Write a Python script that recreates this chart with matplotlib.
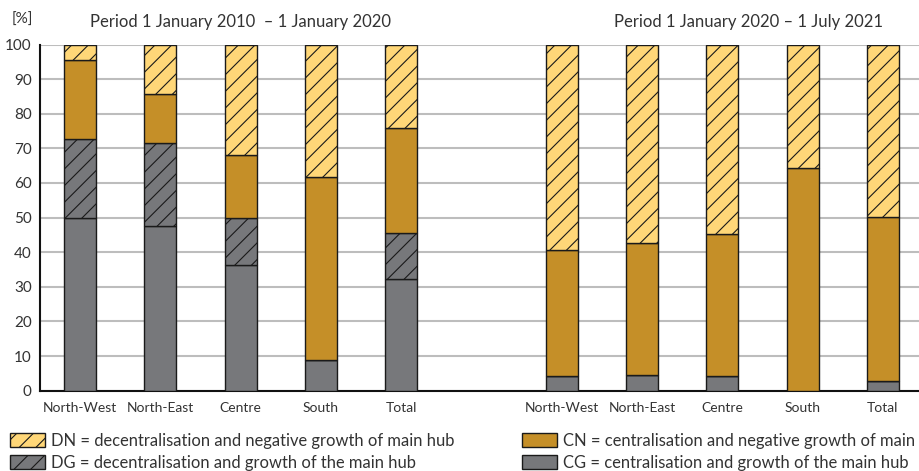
import matplotlib
matplotlib.use("Agg")
import matplotlib.pyplot as plt
from matplotlib.patches import Patch
import numpy as np

plt.rcParams['font.family'] = ['Lato', 'DejaVu Sans']
plt.rcParams['hatch.linewidth'] = 0.8

regions = ["North-West", "North-East", "Centre", "South", "Total"]
period_titles = ["Period 1 January 2010  \u2013 1 January 2020",
                 "Period 1 January 2020 \u2013 1 July 2021"]

# Period 1 (2010-2020), shares in %
p1_CG = [50.0, 47.6, 36.4, 8.8, 32.3]
p1_DG = [22.8, 23.9, 13.6, 0.0, 13.2]
p1_CN = [22.7, 14.3, 18.2, 53.0, 30.3]
p1_DN = [4.5, 14.2, 31.8, 38.2, 24.2]

# Period 2 (2020-2021), shares in %
p2_CG = [4.3, 4.6, 4.3, 0.0, 2.8]
p2_DG = [0.0, 0.0, 0.0, 0.0, 0.0]
p2_CN = [36.4, 38.0, 40.9, 64.4, 47.5]
p2_DN = [59.3, 57.4, 54.8, 35.6, 49.7]

yticks = [0, 10, 20, 30, 40, 50, 60, 70, 80, 90, 100]

c_DN = '#FFD778'
c_DG = '#77787B'
c_CN = '#C58F28'
c_CG = '#77787B'
edge = '#1a1a1a'

W, H = 919, 471
fig = plt.figure(figsize=(W / 100, H / 100), dpi=100)
y0, y100 = 390.7, 44.5
ax = fig.add_axes([40 / W, (H - y0) / H, 883 / W, (y0 - y100) / H])

x1 = np.arange(5)
x2 = np.arange(5) + 6
bw = 0.4

def stack(x, CG, DG, CN, DN):
    CG = np.array(CG); DG = np.array(DG); CN = np.array(CN); DN = np.array(DN)
    ax.bar(x, CG, bw, color=c_CG, edgecolor=edge, linewidth=1, zorder=3)
    ax.bar(x, DG, bw, bottom=CG, color=c_DG, edgecolor=edge, linewidth=1,
           hatch='//', zorder=3)
    ax.bar(x, CN, bw, bottom=CG + DG, color=c_CN, edgecolor=edge, linewidth=1,
           zorder=3)
    ax.bar(x, DN, bw, bottom=CG + DG + CN, color=c_DN, edgecolor=edge,
           linewidth=1, hatch='//', zorder=3)

stack(x1, p1_CG, p1_DG, p1_CN, p1_DN)
stack(x2, p2_CG, p2_DG, p2_CN, p2_DN)

ax.set_xlim(-0.5, 10.5)
ax.set_ylim(0, 100)
ax.set_yticks(yticks)
ax.set_yticklabels([str(v) for v in yticks], fontsize=11, color='#333333')
ax.set_xticks(list(x1) + list(x2))
ax.set_xticklabels(regions + regions, fontsize=10, color='#333333')
ax.tick_params(length=0, pad=6)
ax.tick_params(axis='x', pad=8)
ax.yaxis.grid(True, color='#bdbdbd', linewidth=1.5, zorder=0)
ax.set_axisbelow(True)
for s in ['top', 'right']:
    ax.spines[s].set_visible(False)
for s in ['left', 'bottom']:
    ax.spines[s].set_color('#111111')
    ax.spines[s].set_linewidth(1.5)

fig.text(12 / W, 1 - 20 / H, "[%]", fontsize=11, color='#333333', va='center')
fig.text(241 / W, 1 - 22 / H, period_titles[0], fontsize=12, color='#333333',
         ha='center', va='center')
fig.text(748 / W, 1 - 22 / H, period_titles[1], fontsize=12, color='#333333',
         ha='center', va='center')

h_DN = Patch(facecolor=c_DN, edgecolor=edge, hatch='//', linewidth=1)
h_DG = Patch(facecolor=c_DG, edgecolor=edge, hatch='//', linewidth=1)
h_CN = Patch(facecolor=c_CN, edgecolor=edge, linewidth=1)
h_CG = Patch(facecolor=c_CG, edgecolor=edge, linewidth=1)

leg_kw = dict(frameon=False, fontsize=11.9, handlelength=2.1, handleheight=0.9,
              handletextpad=0.4, labelspacing=0.35, borderpad=0, borderaxespad=0,
              loc='upper left', labelcolor='#333333')
leg1 = fig.legend([h_DN, h_DG],
                  ["DN = decentralisation and negative growth of main hub",
                   "DG = decentralisation and growth of the main hub"],
                  bbox_to_anchor=(10 / W, 1 - 433 / H), **leg_kw)
leg2 = fig.legend([h_CN, h_CG],
                  ["CN = centralisation and negative growth of main hub",
                   "CG = centralisation and growth of the main hub"],
                  bbox_to_anchor=(522 / W, 1 - 433 / H), **leg_kw)

fig.savefig("out.png", dpi=100)
